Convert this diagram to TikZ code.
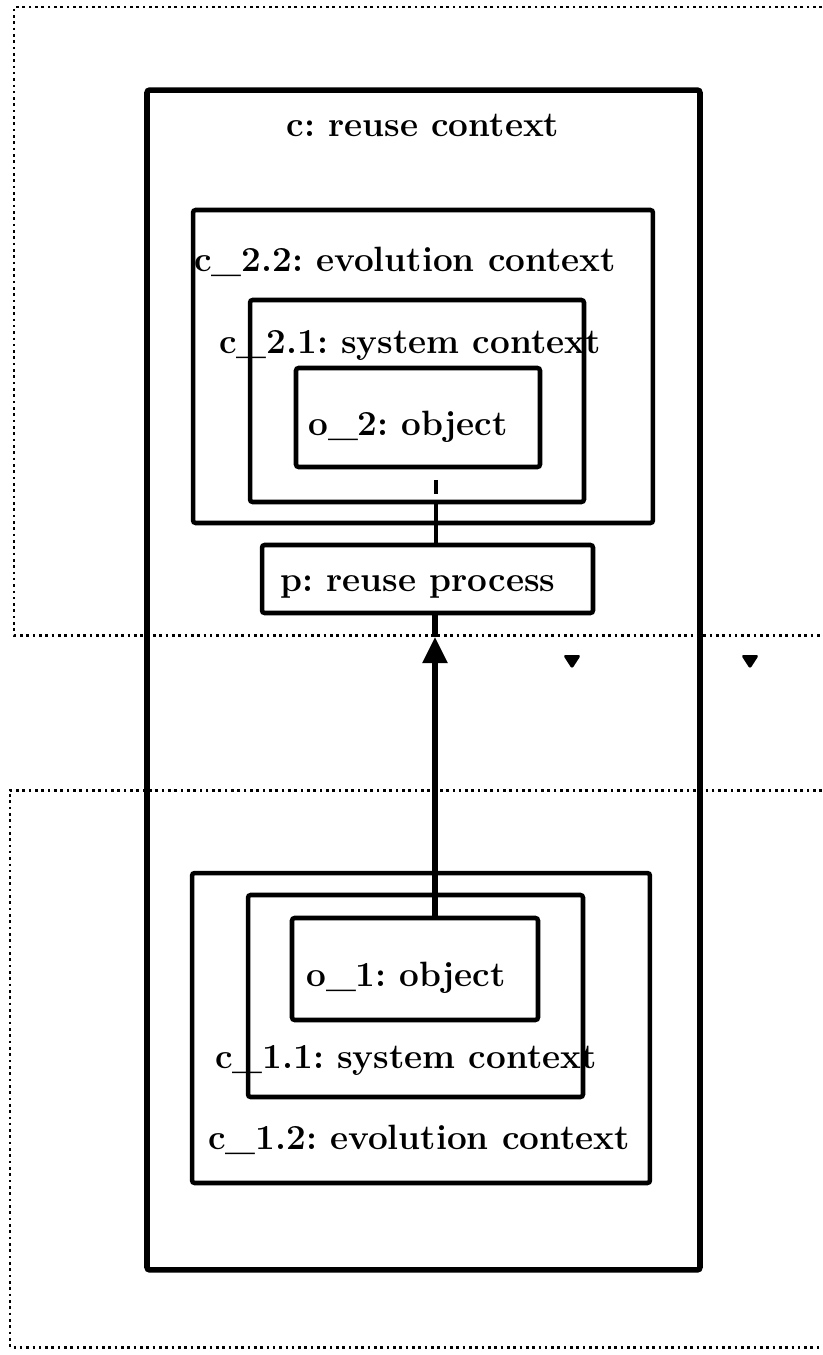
\documentclass[tikz,border=0pt]{standalone}
\usetikzlibrary{arrows.meta}
\begin{document}
\begin{tikzpicture}[x=0.02cm, y=-0.02cm,
    ctx/.style={draw, rectangle, line width=2.6pt, rounded corners=1.5pt, inner sep=0pt},
    lbl/.style={font=\fontsize{20}{24}\selectfont\bfseries\frenchspacing, inner sep=0pt},
    zone/.style={line width=1.7pt, dash pattern=on 1.5pt off 2.1pt}]
        \useasboundingbox (0,0) rectangle (822,1355);

        % Dotted zones
        \draw[zone] (822,7) -- (14,7) -- (14,635) -- (822,635);
        \draw[zone] (822,790) -- (10,790) -- (10,1347) -- (822,1347);

        % Reuse context
        \node[ctx, line width=3.2pt, minimum width=11.06cm, minimum height=23.6cm] (c) at (423.5,680) {};
        \node[lbl] (cl) at (423,125) {c: reuse context};

        % Upper contexts
        \node[ctx, minimum width=9.2cm, minimum height=6.26cm] (c22) at (423,366.5) {};
        \node[ctx, minimum width=6.68cm, minimum height=4.04cm] (c21) at (417,401) {};
        \node[ctx, minimum width=4.88cm, minimum height=1.98cm] (o2) at (418,417.5) {};
        \node[lbl] (c22l) at (405,262) {c\_2.2: evolution context};
        \node[lbl] (c21l) at (410,345) {c\_2.1: system context};
        \node[lbl] (o2l) at (408,427) {o\_2: object};

        % Reuse process
        \node[ctx, minimum width=6.62cm, minimum height=1.36cm] (p) at (427.5,579) {};
        \node[lbl] (pl) at (418,587) {p: reuse process};

        % Lower contexts
        \node[ctx, minimum width=9.16cm, minimum height=6.2cm] (c12) at (421,1028) {};
        \node[ctx, minimum width=6.7cm, minimum height=4.04cm] (c11) at (415.5,996) {};
        \node[ctx, minimum width=4.92cm, minimum height=2.04cm] (o1) at (415,969) {};
        \node[lbl] (o1l) at (406,978) {o\_1: object};
        \node[lbl] (c11l) at (406,1060) {c\_1.1: system context};
        \node[lbl] (c12l) at (419,1140) {c\_1.2: evolution context};

        % Links
        \coordinate (link) at (436,480);
        \coordinate (tip) at (435,637);
        \draw[line width=2.4pt, dash pattern=on 0pt off 6pt on 8pt off 5.7pt on 40pt] (link |- o2.south) -- (link |- p.north);
        \draw[line width=3pt, -{Triangle[length=0.52cm, width=0.48cm]}] (tip |- o1.north) -- (tip);
        \draw[line width=3pt] (tip) -- (tip |- p.south);

        % Small marks
        \fill[rounded corners=1.5pt] (563,655) -- (581,655) -- (572,669) -- cycle;
        \fill[rounded corners=1.5pt] (741,655) -- (759,655) -- (750,669) -- cycle;
\end{tikzpicture}
\end{document}
